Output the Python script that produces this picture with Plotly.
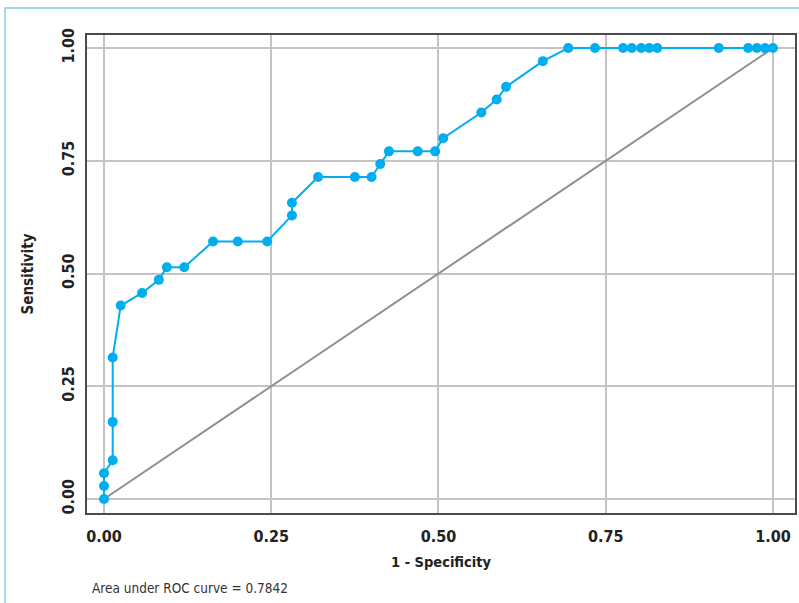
import plotly.graph_objects as go

# ROC curve points (1 - specificity, sensitivity)
fpr = [0.0, 0.0, 0.0, 0.013, 0.013, 0.013, 0.025, 0.057, 0.082, 0.094, 0.12,
       0.163, 0.2, 0.244, 0.281, 0.281, 0.32, 0.375, 0.40, 0.413, 0.426,
       0.469, 0.495, 0.507, 0.564, 0.587, 0.601, 0.656, 0.694, 0.734,
       0.776, 0.789, 0.803, 0.815, 0.827, 0.919, 0.963, 0.976, 0.988, 1.0]
tpr = [0.0, 0.029, 0.057, 0.086, 0.171, 0.314, 0.429, 0.457, 0.486, 0.514, 0.514,
       0.571, 0.571, 0.571, 0.629, 0.657, 0.714, 0.714, 0.714, 0.743, 0.771,
       0.771, 0.771, 0.8, 0.857, 0.886, 0.914, 0.971, 1.0, 1.0,
       1.0, 1.0, 1.0, 1.0, 1.0, 1.0, 1.0, 1.0, 1.0, 1.0]
ref_x = [0, 1]
ref_y = [0, 1]
tick_vals = [0, 0.25, 0.5, 0.75, 1.0]
tick_text = ["0.00", "0.25", "0.50", "0.75", "1.00"]
auc_text = "Area under ROC curve = 0.7842"

FONT = "DejaVu Sans Condensed, Liberation Sans Narrow, sans-serif"

fig = go.Figure()
fig.add_trace(go.Scatter(x=ref_x, y=ref_y, mode="lines",
                         line=dict(color="#8f8f8f", width=2), hoverinfo="skip"))
fig.add_trace(go.Scatter(x=fpr, y=tpr, mode="lines+markers",
                         line=dict(color="#00aeef", width=2),
                         marker=dict(color="#00aeef", size=10)))

axis_common = dict(
    tickvals=tick_vals, ticktext=tick_text,
    showgrid=True, gridcolor="#c4c4c6", gridwidth=2,
    zeroline=False, showline=True, linecolor="#4a4a4a", linewidth=1.5,
    mirror=True, ticks="", automargin=False,
    tickfont=dict(family=FONT, size=16, color="#222", weight="bold"),
)

fig.update_layout(
    width=799, height=603,
    margin=dict(l=87, r=4, t=35, b=90),
    paper_bgcolor="white", plot_bgcolor="white",
    showlegend=False,
    font=dict(family=FONT, color="#222"),
    xaxis=dict(range=[-0.0254, 1.033], ticklabelstandoff=8,
               title=dict(text="<b>1 - Specificity</b>", font=dict(family=FONT, size=14.5, color="#222"), standoff=12),
               **axis_common),
    yaxis=dict(range=[-0.031, 1.029], tickangle=-90, ticklabelstandoff=5,
               title=dict(text="<b>Sensitivity</b>", font=dict(family=FONT, size=15, color="#222"), standoff=22),
               **axis_common),
    annotations=[dict(text=auc_text, xref="paper", yref="paper",
                      x=(90 - 87) / 708, y=(513 - 588) / 478,
                      xanchor="left", yanchor="middle", showarrow=False,
                      font=dict(family=FONT, size=13.5, color="#333"))],
    shapes=[dict(type="path", xref="paper", yref="paper",
                 path="M {:.4f},{:.4f} L {:.4f},{:.4f} L {:.4f},{:.4f}".format(
                     (5 - 87) / 708, (513 - 610) / 478,
                     (5 - 87) / 708, (513 - 8) / 478,
                     (805 - 87) / 708, (513 - 8) / 478),
                 line=dict(color="#7fcff0", width=1.5))],
)
fig.write_html("out.html", config={"displayModeBar": False},
               post_script="document.body.style.margin='0';")
